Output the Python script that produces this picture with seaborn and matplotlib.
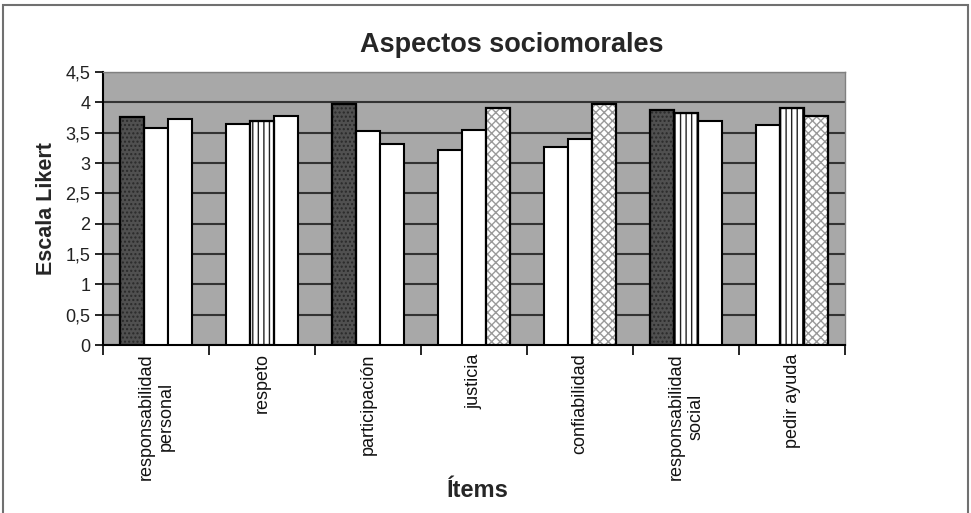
import pandas as pd
import matplotlib.pyplot as plt
import seaborn as sns
from matplotlib.patches import Rectangle

ITEMS = ['responsabilidad\npersonal', 'respeto', 'participación', 'justicia',
         'confiabilidad', 'responsabilidad\nsocial', 'pedir ayuda']
GRUPO_1 = [3.76, 3.64, 3.97, 3.22, 3.26, 3.87, 3.62]
GRUPO_2 = [3.57, 3.70, 3.53, 3.54, 3.39, 3.82, 3.90]
GRUPO_3 = [3.72, 3.78, 3.32, 3.90, 3.97, 3.69, 3.78]
Y_TICKS = [0, 0.5, 1, 1.5, 2, 2.5, 3, 3.5, 4, 4.5]
Y_LABELS = ['0', '0,5', '1', '1,5', '2', '2,5', '3', '3,5', '4', '4,5']

# which bars carry a fill pattern (per group, per item)
PATTERN = [
    ['dark', None, 'dark', None, None, 'dark', None],
    [None, 'vert', None, None, None, 'vert', 'vert'],
    [None, None, None, 'wave', 'wave', None, 'wave'],
]

df = pd.DataFrame({
    'item': ITEMS * 3,
    'grupo': ['G1'] * 7 + ['G2'] * 7 + ['G3'] * 7,
    'valor': GRUPO_1 + GRUPO_2 + GRUPO_3,
})

sns.set_theme(style='white')
plt.rcParams['font.family'] = ['Liberation Sans', 'DejaVu Sans']
plt.rcParams['hatch.linewidth'] = 1.0

fig = plt.figure(figsize=(9.71, 5.13), dpi=100)
ax = fig.add_axes([103 / 971, 1 - 345 / 513, 742 / 971, 273 / 513])
ax.set_facecolor('#a8a8a8')

sns.barplot(data=df, x='item', y='valor', hue='grupo', width=0.67,
            palette=['white'] * 3, edgecolor='black', linewidth=1.5,
            legend=False, ax=ax, zorder=3)

for g, cont in enumerate(ax.containers):
    for i, bar in enumerate(cont):
        kind = PATTERN[g][i]
        if kind == 'dark':
            bar.set_facecolor('#505050')
            bar.set_hatch('....')
            bar.set_edgecolor('#2a2a2a')
        elif kind == 'vert':
            bar.set_facecolor('white')
            bar.set_hatch('|||')
            bar.set_edgecolor('#222222')
        elif kind == 'wave':
            bar.set_facecolor('white')
            bar.set_hatch('xxxx')
            bar.set_edgecolor('#9a9a9a')
        if kind is not None:
            bar.set_linewidth(0.8)
            ax.add_patch(Rectangle(bar.get_xy(), bar.get_width(), bar.get_height(),
                                   fill=False, edgecolor='black', lw=1.6, zorder=4))

ax.set_ylim(0, 4.5)
ax.set_xlim(-0.5, len(ITEMS) - 0.5)
ax.set_yticks(Y_TICKS)
ax.set_yticklabels(Y_LABELS, fontsize=13, color='#222222')
ax.yaxis.grid(True, color='#333333', linewidth=1.5, zorder=0)
ax.set_axisbelow(True)

ax.set_xticks(range(len(ITEMS)))
ax.set_xticklabels(ITEMS, rotation=90, ma='center', fontsize=13, color='#111111')
ax.set_xticks([i - 0.5 for i in range(len(ITEMS) + 1)], minor=True)
ax.tick_params(axis='x', which='major', length=0, pad=6)
ax.tick_params(axis='x', which='minor', length=7, width=1.2, color='black', bottom=True)
ax.tick_params(axis='y', length=6, width=1.2, color='black', left=True, pad=3)

for side in ['top', 'right']:
    ax.spines[side].set_color('#808080')
    ax.spines[side].set_linewidth(1.0)
for side in ['left', 'bottom']:
    ax.spines[side].set_color('black')
    ax.spines[side].set_linewidth(1.5)

ax.set_xlabel('Ítems', fontsize=17, fontweight='bold')
ax.xaxis.set_label_coords(0.505, -0.49)
ax.set_ylabel('Escala Likert', fontsize=15.5, fontweight='bold')
ax.yaxis.set_label_coords(-0.062, 0.5)

fig.text(512 / 971, 1 - 45 / 513, 'Aspectos sociomorales', ha='center', va='center',
         fontsize=19.5, fontweight='bold')

fig.patches.append(Rectangle((3 / 971, -0.05), 965 / 971, 1.05 - 5 / 513,
                             transform=fig.transFigure, fill=False,
                             edgecolor='#707070', lw=1.5))

fig.savefig('out.png', dpi=100)
